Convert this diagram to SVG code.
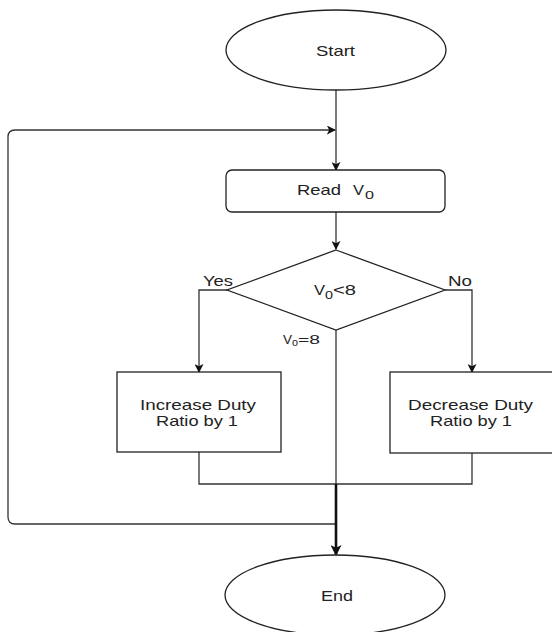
<svg xmlns="http://www.w3.org/2000/svg" width="552" height="632" viewBox="0 0 552 632">
<defs>
<marker id="arr" viewBox="0 0 10 10" refX="9" refY="5" markerWidth="9" markerHeight="9" markerUnits="userSpaceOnUse" orient="auto">
<path d="M0,0 L10,5 L0,10 L2.5,5 Z" fill="#111"/>
</marker>
<marker id="arrb" viewBox="0 0 10 10" refX="9" refY="5" markerWidth="11" markerHeight="11" markerUnits="userSpaceOnUse" orient="auto">
<path d="M0,0 L10,5 L0,10 L2.5,5 Z" fill="#111"/>
</marker>
</defs>
<style>
.shape{fill:#fff;stroke:#222;stroke-width:1.3}
.ln{fill:none;stroke:#333;stroke-width:1.3}
.thk{fill:none;stroke:#111;stroke-width:2.6}
text{font-family:"Liberation Sans",Arial,sans-serif;font-size:14.5px;fill:#222}
.sm{font-size:12px}
.sub{font-size:11px}
</style>
<rect width="552" height="632" fill="#fff"/>
<g id="connectors">
<path class="ln" d="M336,90 V170" marker-end="url(#arr)"/>
<path class="ln" d="M336,212 V249" marker-end="url(#arr)"/>
<path class="ln" d="M227,290 H199 V372" marker-end="url(#arr)"/>
<path class="ln" d="M445,290 H472 V372" marker-end="url(#arr)"/>
<path class="ln" d="M336,330 V484"/>
<path class="ln" d="M199,452 V484 H472 V453"/>
<path class="ln" d="M336,524 H15 Q8,524 8,517 V137 Q8,130 15,130 H335" marker-end="url(#arr)"/>
<path class="thk" d="M336,484 V555" marker-end="url(#arrb)"/>
</g>
<g id="start">
<ellipse class="shape" cx="336" cy="50" rx="110" ry="40"/>
<text x="316" y="56" textLength="39" lengthAdjust="spacingAndGlyphs">Start</text>
</g>
<g id="read">
<rect class="shape" x="226" y="170" width="219" height="42" rx="6"/>
<text x="297" y="195" textLength="44" lengthAdjust="spacingAndGlyphs">Read</text>
<text x="353" y="195" textLength="11" lengthAdjust="spacingAndGlyphs">V</text>
<text class="sub" x="365" y="199" textLength="9" lengthAdjust="spacingAndGlyphs">0</text>
</g>
<g id="decision">
<polygon class="shape" points="336,250 445,290 336,330 227,290"/>
<text x="314" y="295" textLength="11" lengthAdjust="spacingAndGlyphs">V</text>
<text class="sub" x="325" y="299" textLength="8" lengthAdjust="spacingAndGlyphs">0</text>
<text x="333" y="295" textLength="23" lengthAdjust="spacingAndGlyphs">&lt;8</text>
</g>
<g id="labels">
<text x="203" y="286" textLength="30" lengthAdjust="spacingAndGlyphs">Yes</text>
<text x="448" y="286" textLength="24" lengthAdjust="spacingAndGlyphs">No</text>
<text class="sm" x="283" y="344" textLength="9" lengthAdjust="spacingAndGlyphs">V</text>
<text class="sub" x="292" y="346" textLength="6" lengthAdjust="spacingAndGlyphs">o</text>
<text class="sm" x="298" y="344" textLength="22" lengthAdjust="spacingAndGlyphs">=8</text>
</g>
<g id="increase">
<rect class="shape" x="117" y="372" width="164" height="80"/>
<text x="140" y="410" textLength="116" lengthAdjust="spacingAndGlyphs">Increase Duty</text>
<text x="156" y="426" textLength="82" lengthAdjust="spacingAndGlyphs">Ratio by 1</text>
</g>
<g id="decrease">
<rect class="shape" x="390" y="372" width="164" height="81"/>
<text x="408" y="410" textLength="125" lengthAdjust="spacingAndGlyphs">Decrease Duty</text>
<text x="430" y="426" textLength="82" lengthAdjust="spacingAndGlyphs">Ratio by 1</text>
</g>
<g id="end">
<ellipse class="shape" cx="335" cy="595" rx="110" ry="40"/>
<text x="321" y="601" textLength="32" lengthAdjust="spacingAndGlyphs">End</text>
</g>
</svg>
